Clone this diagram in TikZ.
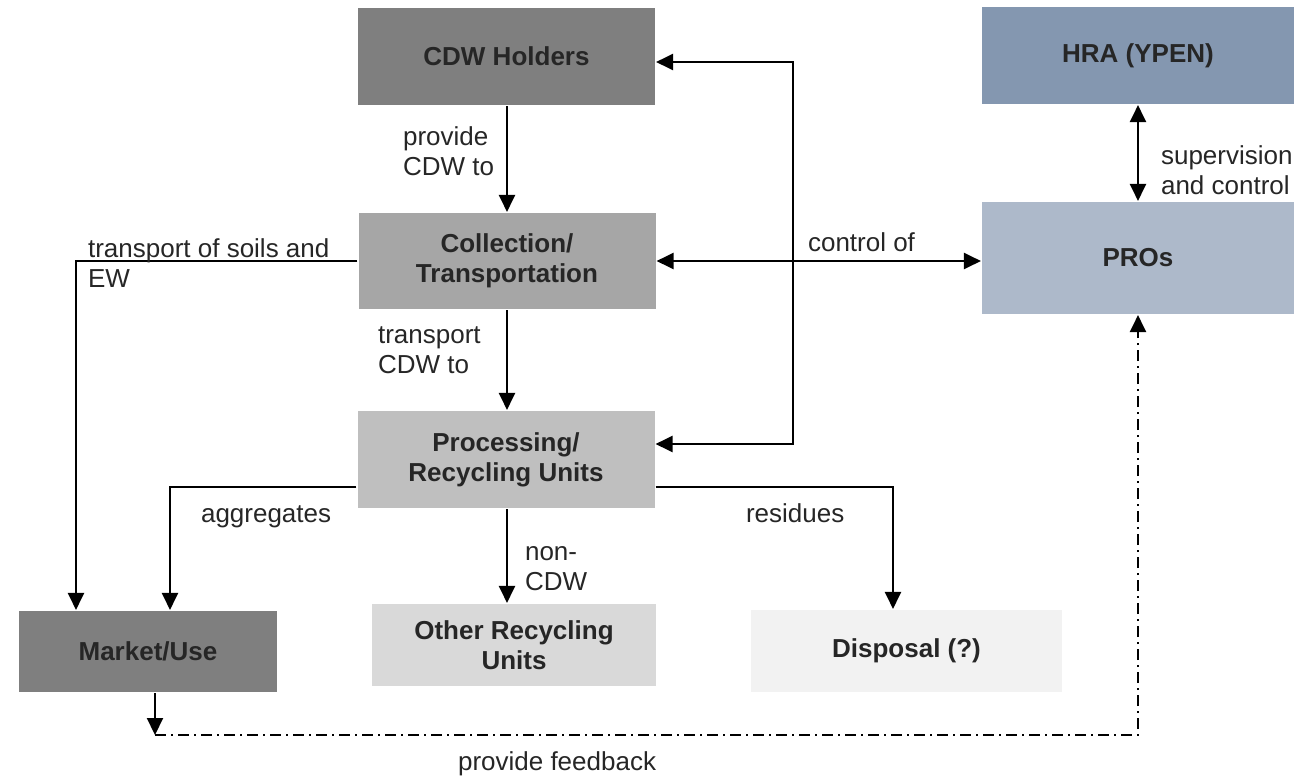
\documentclass[tikz,border=0pt]{standalone}
\usepackage{fontspec}
\setmainfont{Liberation Sans}
\usetikzlibrary{arrows.meta}
\definecolor{holdgray}{HTML}{7F7F7F}
\definecolor{collgray}{HTML}{A6A6A6}
\definecolor{procgray}{HTML}{BFBFBF}
\definecolor{othergray}{HTML}{D9D9D9}
\definecolor{dispgray}{HTML}{F2F2F2}
\definecolor{hrablue}{HTML}{8497B0}
\definecolor{problue}{HTML}{ADB9CA}
\definecolor{inkgray}{HTML}{262626}
\begin{document}
\begin{tikzpicture}[x=0.5pt,y=-0.5pt,line width=1.05pt,
                    every node/.style={font=\fontsize{13pt}{15pt}\selectfont,text=inkgray},
                    box/.style={rectangle,inner sep=0pt,align=center,font=\fontsize{13pt}{15pt}\selectfont\bfseries},
                    lbl/.style={inner sep=0pt,align=left},
                    flow/.style={-{Triangle[width=8pt,length=8.5pt]}},
                    flowboth/.style={{Triangle[width=8pt,length=8.5pt]}-{Triangle[width=8pt,length=8.5pt]}},
                    feedback/.style={dash pattern=on 5.5pt off 2.5pt on 1pt off 2.5pt}]
% ---- canvas (px of the source, y down) ----
\path[use as bounding box] (0,0) rectangle (1314,778);
% ---- boxes ----
\node[box,fill=holdgray,minimum width=148.5pt,minimum height=48.5pt]  (holders)  at (506.5,56.5) {CDW Holders};
\node[box,fill=hrablue,minimum width=156pt,minimum height=48.5pt]     (hra)      at (1138,55.5)  {HRA (YPEN)};
\node[box,fill=collgray,minimum width=148.5pt,minimum height=48pt]    (collect)  at (507,261)    {Collection/\\Transportation};
\node[box,fill=problue,minimum width=156pt,minimum height=56pt]       (pros)     at (1138,258)   {PROs};
\node[box,fill=procgray,minimum width=148.5pt,minimum height=48.5pt]  (process)  at (506,459.5)  {Processing/\\Recycling Units};
\node[box,fill=holdgray,minimum width=129pt,minimum height=40.5pt]    (market)   at (148,651.5)  {Market/Use};
\node[box,fill=othergray,minimum width=142pt,minimum height=41pt]     (other)    at (514,645)    {Other Recycling\\Units};
\node[box,fill=dispgray,minimum width=155.5pt,minimum height=41pt]    (disposal) at (906.5,651)  {Disposal (?)};
% ---- bend points ----
\coordinate (loopT) at (793,62);
\coordinate (loopB) at (793,444);
\coordinate (soilX) at (76,261);
\coordinate (aggX)  at (170,487);
\coordinate (resX)  at (893,487);
\coordinate (fbL)   at (155,735);
\coordinate (fbR)   at (1138,735);
% ---- connectors ----
\draw[flow] (holders.south -| collect.north) -- (collect.north);
\draw[flow] (collect.south) -- (collect.south |- process.north);
\draw[flow] (process.south -| collect.south) -- (collect.south |- other.north);
\draw[flowboth] (holders.east |- loopT) -- (loopT) -- (loopB) -- (process.east |- loopB);
\draw[flowboth] (collect.east) -- (collect.east -| pros.west);
\draw[flowboth] (hra.south) -- (pros.north);
\draw[flow] (collect.west) -- (soilX) -- (soilX |- market.north);
\draw[flow] (process.west |- aggX) -- (aggX) -- (aggX |- market.north);
\draw[flow] (process.east |- resX) -- (resX) -- (resX |- disposal.north);
\draw[flow] (market.south -| fbL) -- (fbL);
\draw[flow,feedback] (fbL) -- (fbR) -- (pros.south);
% ---- labels ----
\node[lbl,anchor=west]      (lprov)  at (402,151)  {provide\\CDW to};
\node[lbl,anchor=west]      (ltrans) at (377,350)  {transport\\CDW to};
\node[lbl,anchor=west]      (lsoil)  at (87,263)   {transport of soils and\\EW};
\node[lbl,anchor=base west] (lctrl)  at (807,251)  {control of};
\node[lbl,anchor=west]      (lsup)   at (1160,170) {supervision\\and control};
\node[lbl,anchor=base west] (lagg)   at (200,522)  {aggregates};
\node[lbl,anchor=west]      (lnon)   at (524,569)  {non-\\CDW};
\node[lbl,anchor=base west] (lres)   at (745,522)  {residues};
\node[lbl,anchor=base west] (lfeed)  at (457,770)  {provide feedback};
\end{tikzpicture}
\end{document}
